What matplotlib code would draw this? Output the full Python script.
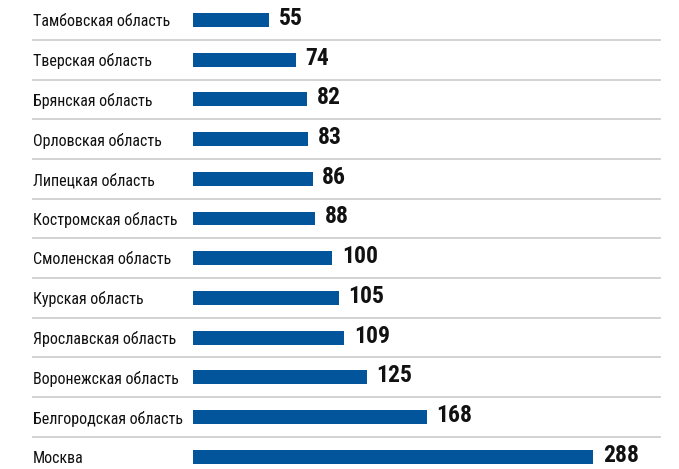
import matplotlib.pyplot as plt

regions = ["Тамбовская область", "Тверская область", "Брянская область",
           "Орловская область", "Липецкая область", "Костромская область",
           "Смоленская область", "Курская область", "Ярославская область",
           "Воронежская область", "Белгородская область", "Москва"]
values = [55, 74, 82, 83, 86, 88, 100, 105, 109, 125, 168, 288]

bar_color = '#02559a'
fonts = ['Roboto Condensed', 'Roboto', 'DejaVu Sans']

fig = plt.figure(figsize=(6.79, 4.69), dpi=100)
ax = fig.add_axes([193 / 679, 0, 467 / 679, 1])

pos = list(range(len(values)))
ax.barh(pos, values, height=0.35, color=bar_color)
ax.set_xlim(0, 336)
ax.set_ylim(11.31, -0.504)
ax.axis('off')

left = -115
for i, (name, v) in enumerate(zip(regions, values)):
    ax.text(left, i + 0.04, name, ha='left', va='center', fontsize=11.5,
            family=fonts, color='#111111')
    ax.text(v + 7, i - 0.04, str(v), ha='left', va='center', fontsize=17,
            fontweight='bold', family=fonts, color='#111111')

# separator lines between rows
for i in range(len(values) - 1):
    ax.plot([left, 336], [i + 0.5, i + 0.5], color='#cfcfcf', lw=1.3,
            clip_on=False)

fig.savefig('out.png', dpi=100)
